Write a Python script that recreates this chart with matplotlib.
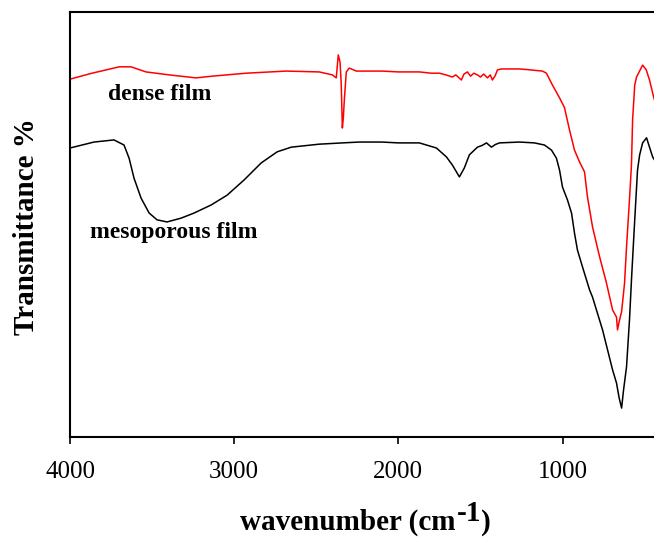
import matplotlib
matplotlib.use("Agg")
import matplotlib.pyplot as plt

# ---- data (wavenumber, transmittance %) ----
dense_wn = [4000, 3866, 3700, 3628, 3537, 3396, 3232, 3134, 2927, 2683, 2482, 2402,
            2378, 2366, 2355, 2348, 2341, 2335, 2329, 2317, 2299, 2256, 2100, 2000,
            1872, 1800, 1750, 1710, 1671, 1650, 1630, 1616, 1600, 1579, 1560, 1540,
            1518, 1500, 1480, 1457, 1440, 1427, 1410, 1396, 1370, 1300, 1262, 1200,
            1150, 1122, 1098, 1061, 1018, 988, 957, 927, 896, 866, 848, 817, 774,
            732, 695, 671, 665, 655, 640, 622, 610, 591, 580, 573, 560, 549, 512,
            490, 470, 445, 420]
dense_T = [84.2, 85.6, 87.1, 87.1, 85.9, 85.2, 84.5, 84.9, 85.6, 86.1, 85.9, 85.2,
           84.5, 89.9, 88.2, 83.3, 72.7, 75.1, 79.3, 85.9, 86.8, 86.1, 86.1, 85.9,
           85.9, 85.6, 85.6, 85.2, 84.7, 85.2, 84.5, 84.0, 85.4, 85.9, 84.9, 85.6,
           85.2, 84.7, 85.4, 84.5, 85.2, 84.0, 85.0, 86.4, 86.6, 86.6, 86.6, 86.4,
           86.2, 86.1, 85.6, 82.8, 79.8, 77.5, 72.2, 67.5, 64.7, 62.4, 56.5, 49.4,
           42.4, 36.2, 29.9, 28.2, 25.2, 27.1, 29.5, 36.2, 44.7, 56.5, 64.0, 74.6,
           82.8, 84.7, 87.5, 86.4, 84.0, 80.0, 76.9]

meso_wn = [4000, 3854, 3732, 3671, 3640, 3610, 3567, 3518, 3470, 3409, 3323, 3244,
           3140, 3043, 2939, 2835, 2738, 2652, 2482, 2341, 2238, 2100, 2000, 1872,
           1768, 1707, 1671, 1628, 1598, 1567, 1518, 1490, 1463, 1433, 1410, 1384,
           1262, 1171, 1110, 1067, 1037, 1018, 1000, 970, 945, 927, 909, 878, 835,
           817, 756, 695, 671, 655, 640, 628, 610, 592, 579, 561, 543, 530, 512,
           488, 470, 451, 420]
meso_T = [68.0, 69.4, 69.9, 68.7, 65.6, 60.9, 56.2, 52.7, 51.1, 50.6, 51.5, 52.7,
          54.6, 56.9, 60.5, 64.5, 67.1, 68.2, 68.9, 69.2, 69.4, 69.4, 69.2, 69.2,
          68.0, 65.9, 64.0, 61.2, 63.3, 66.4, 68.2, 68.6, 69.2, 68.2, 68.8, 69.2,
          69.4, 69.2, 68.7, 67.5, 65.6, 62.8, 58.8, 55.8, 52.7, 48.0, 44.0, 40.0,
          34.6, 32.9, 25.2, 15.8, 12.7, 9.2, 6.8, 11.1, 16.5, 27.5, 37.6, 50.4,
          62.8, 66.4, 69.2, 70.4, 68.2, 65.9, 64.0]

xticks = [4000, 3000, 2000, 1000]
xtick_labels = ["4000", "3000", "2000", "1000"]

serif = ["Liberation Serif", "DejaVu Serif"]
plt.rcParams["font.family"] = serif

W, H = 654, 537
fig = plt.figure(figsize=(W / 100, H / 100), dpi=100)
# axes extends a few pixels past the right edge, like the reference crop
ax = fig.add_axes([70 / W, 100 / H, (661 - 70) / W, (437 - 12) / H])

ax.plot(dense_wn, dense_T, color="#ff0000", lw=1.1)
ax.plot(meso_wn, meso_T, color="black", lw=1.1)

ax.set_xlim(4000, 400)
ax.set_ylim(0, 100)
ax.set_xticks(xticks)
ax.set_xticklabels(xtick_labels)
ax.set_yticks([])
ax.tick_params(axis="x", direction="out", length=5, width=1.2, labelsize=18, pad=12)
for s in ["left", "top", "bottom"]:
    ax.spines[s].set_linewidth(1.5)
ax.spines["right"].set_visible(False)

ax.text(3768, 79.3, "dense film", fontsize=17, fontweight="bold", va="baseline", ha="left")
ax.text(3878, 46.8, "mesoporous film", fontsize=17, fontweight="bold", va="baseline", ha="left")

fig.text(27 / W, 1 - 227 / H, "Transmittance %", rotation=90, fontsize=21,
         fontweight="bold", ha="center", va="center")

# x label with full-size raised superscript
fig.canvas.draw()
r = fig.canvas.get_renderer()
base_y = 1 - 530 / H
x0 = 240 / W
t1 = fig.text(x0, base_y, "wavenumber (cm", fontsize=21, fontweight="bold", va="baseline")
bb1 = t1.get_window_extent(r)
t2 = fig.text(bb1.x1 / W + 1 / W, base_y + 9 / H, "-1", fontsize=21, fontweight="bold", va="baseline")
bb2 = t2.get_window_extent(r)
t3 = fig.text(bb2.x1 / W, base_y, ")", fontsize=21, fontweight="bold", va="baseline")

fig.savefig("out.png", dpi=100)
